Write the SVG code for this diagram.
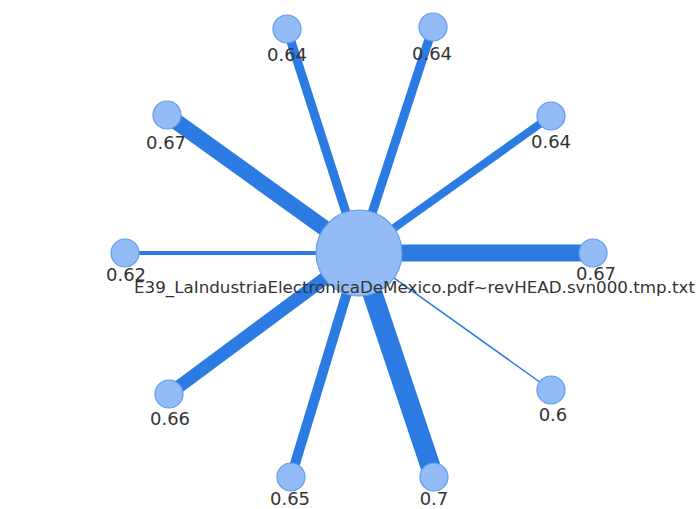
<svg xmlns="http://www.w3.org/2000/svg" width="699" height="509" viewBox="0 0 699 509">
<style>
.edge{stroke:#2b7be3;stroke-linecap:butt;fill:none}
.node{fill:#93bbf6;stroke:#5f9cec;stroke-width:1.2}
.lbl{font-family:"DejaVu Sans","Verdana",sans-serif;font-size:18px;fill:#333;text-anchor:middle}
.main{font-family:"DejaVu Sans","Verdana",sans-serif;font-size:16.5px;fill:#333}
</style>
<rect width="699" height="509" fill="#fff"/>
<g id="connectors">
<line class="edge" x1="359" y1="253" x2="287" y2="29" stroke-width="9"/>
<line class="edge" x1="359" y1="253" x2="433" y2="27" stroke-width="9"/>
<line class="edge" x1="359" y1="253" x2="167" y2="115" stroke-width="16"/>
<line class="edge" x1="359" y1="253" x2="551" y2="116" stroke-width="8"/>
<line class="edge" x1="359" y1="253" x2="593" y2="253" stroke-width="17"/>
<line class="edge" x1="359" y1="253" x2="125" y2="253" stroke-width="4"/>
<line class="edge" x1="359" y1="253" x2="169" y2="394" stroke-width="13"/>
<line class="edge" x1="359" y1="253" x2="291" y2="477" stroke-width="10"/>
<line class="edge" x1="359" y1="253" x2="434" y2="477" stroke-width="20"/>
<line class="edge" x1="359" y1="253" x2="551" y2="390" stroke-width="1.5"/>
</g>
<g id="center"><circle class="node" cx="359" cy="253" r="43"/></g>
<g id="n1"><circle class="node" cx="287" cy="29" r="14"/><text class="lbl" x="287" y="61">0.64</text></g>
<g id="n2"><circle class="node" cx="433" cy="27" r="14"/><text class="lbl" x="432" y="60">0.64</text></g>
<g id="n3"><circle class="node" cx="167" cy="115" r="14"/><text class="lbl" x="166" y="149">0.67</text></g>
<g id="n4"><circle class="node" cx="551" cy="116" r="14"/><text class="lbl" x="551" y="148">0.64</text></g>
<g id="n5"><circle class="node" cx="593" cy="253" r="14"/><text class="lbl" x="596" y="280">0.67</text></g>
<g id="n6"><circle class="node" cx="125" cy="253" r="14"/><text class="lbl" x="126" y="281">0.62</text></g>
<g id="n7"><circle class="node" cx="169" cy="394" r="14"/><text class="lbl" x="170" y="425">0.66</text></g>
<g id="n8"><circle class="node" cx="291" cy="477" r="14"/><text class="lbl" x="290" y="505">0.65</text></g>
<g id="n9"><circle class="node" cx="434" cy="477" r="14"/><text class="lbl" x="434" y="505">0.7</text></g>
<g id="n10"><circle class="node" cx="551" cy="390" r="14"/><text class="lbl" x="553" y="421">0.6</text></g>
<g id="center-label"><text class="main" x="134" y="293" textLength="561" lengthAdjust="spacingAndGlyphs">E39_LaIndustriaElectronicaDeMexico.pdf~revHEAD.svn000.tmp.txt</text></g>
</svg>
